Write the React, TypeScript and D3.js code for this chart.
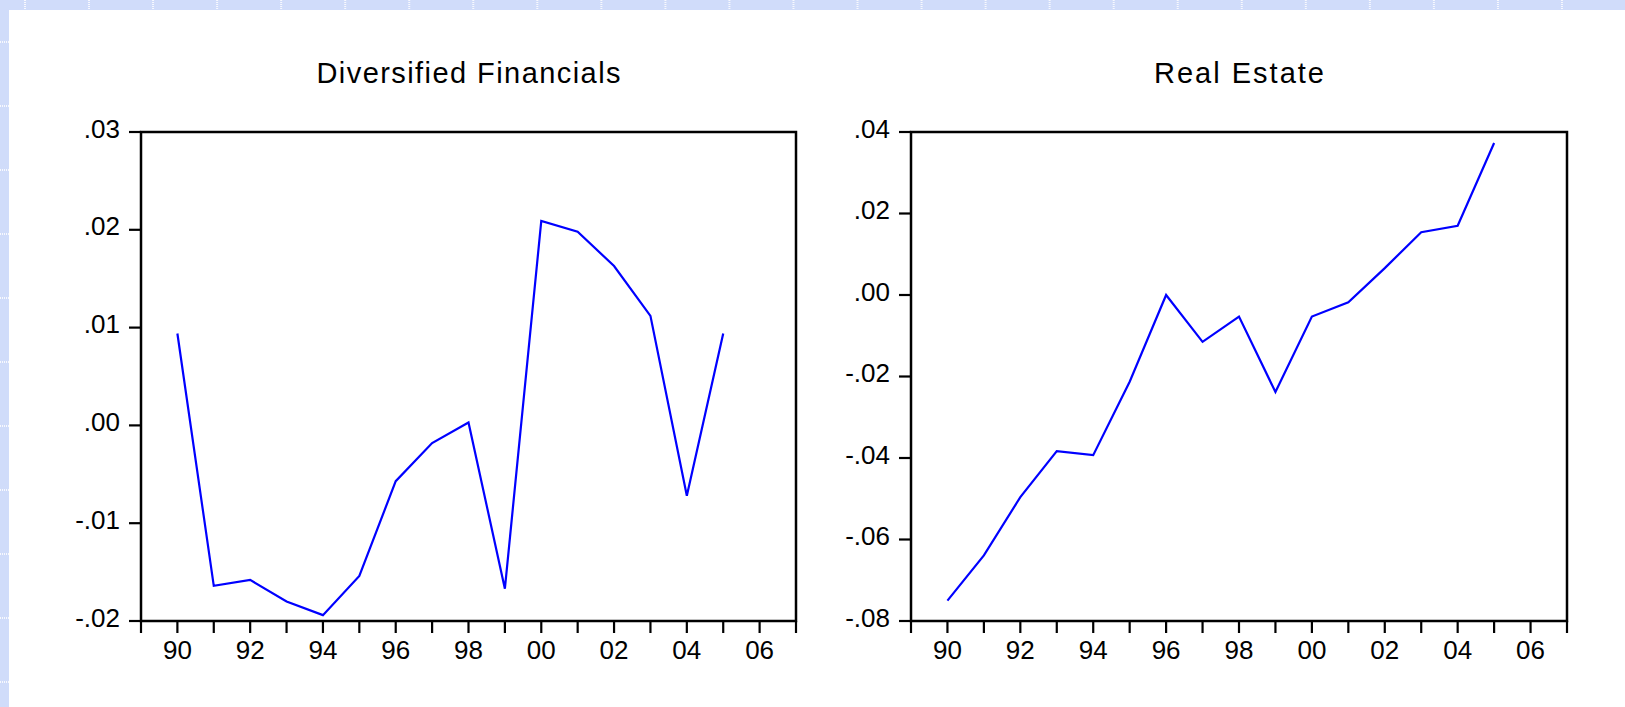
import * as d3 from 'd3'
import React from 'react'

// years shown on the x axis (annual data)
const years = [1990, 1991, 1992, 1993, 1994, 1995, 1996, 1997, 1998, 1999, 2000, 2001, 2002, 2003, 2004, 2005]

// series
const finValues = [0.0094, -0.0164, -0.0158, -0.018, -0.0194, -0.0154, -0.0057, -0.0018, 0.0003, -0.0167, 0.0209, 0.0198, 0.0163, 0.0112, -0.0072, 0.0094]
const realEstateValues = [-0.075, -0.0639, -0.0496, -0.0383, -0.0393, -0.0213, 0.0, -0.0115, -0.0053, -0.0238, -0.0053, -0.0018, 0.0066, 0.0154, 0.017, 0.0373]

const finTicks = [-0.02, -0.01, 0.0, 0.01, 0.02, 0.03]
const realTicks = [-0.08, -0.06, -0.04, -0.02, 0.0, 0.02, 0.04]
const xTicks = d3.range(1989, 2008)
const xLabelYears = [1990, 1992, 1994, 1996, 1998, 2000, 2002, 2004, 2006]

const W = 1625
const H = 707
const FONT = '"Liberation Sans", Arial, sans-serif'

// EViews style number label: .03, -.02, .00
const fmtY = (v: number) => {
  const s = Math.abs(v).toFixed(2).replace(/^0/, '')
  return v < -1e-9 ? `-${s}` : s
}
const fmtX = (y: number) => String(y % 100).padStart(2, '0')

type PanelProps = {
  title: string
  titleWidth: number
  values: number[]
  yDomain: [number, number]
  yTicks: number[]
  left: number
  right: number
}

const Panel = ({ title, titleWidth, values, yDomain, yTicks, left, right }: PanelProps) => {
  const top = 132
  const bottom = 621
  const x = d3.scaleLinear().domain([1989, 2007]).range([left, right])
  const y = d3.scaleLinear().domain(yDomain).range([bottom, top])
  const line = d3
    .line<number>()
    .x((_, i) => x(years[i]))
    .y((d) => y(d))

  const tick = 12

  return (
    <g>
      <text
        x={(left + right) / 2}
        y={83}
        textAnchor='middle'
        fontSize={29}
        fontFamily={FONT}
        fill='#000'
        textLength={titleWidth}
        lengthAdjust='spacing'
      >
        {title}
      </text>

      {/* series */}
      <path d={line(values) || ''} fill='none' stroke='#0000ff' strokeWidth={2.2} strokeLinejoin='miter' />

      {/* frame */}
      <rect x={left} y={top} width={right - left} height={bottom - top} fill='none' stroke='#000' strokeWidth={2.5} />

      {/* y axis */}
      {yTicks.map((t) => (
        <g key={t}>
          <line x1={left - tick} x2={left} y1={y(t)} y2={y(t)} stroke='#000' strokeWidth={2.2} />
          <text
            x={left - 21}
            y={y(t)}
            dy='0.33em'
            textAnchor='end'
            fontSize={26}
            fontFamily={FONT}
            fill='#000'
            transform='translate(0,-3)'
          >
            {fmtY(t)}
          </text>
        </g>
      ))}

      {/* x axis */}
      {xTicks.map((t) => (
        <line key={t} x1={x(t)} x2={x(t)} y1={bottom} y2={bottom + tick} stroke='#000' strokeWidth={2.2} />
      ))}
      {xLabelYears.map((t) => (
        <text key={t} x={x(t)} y={659} textAnchor='middle' fontSize={26} fontFamily={FONT} fill='#000'>
          {fmtX(t)}
        </text>
      ))}
    </g>
  )
}

export default function App() {
  const vLines = d3.range(0, 26).map((k) => 25 + k * 64.04)
  const hLines = d3.range(0, 11).map((k) => 42 + k * 64)

  return (
    <svg
      width={W}
      height={H}
      style={{ position: 'absolute', left: 0, top: 0, display: 'block', background: '#d0dcfa' }}
    >
      <rect x={0} y={0} width={W} height={H} fill='#d0dcfa' />
      {vLines.map((vx) => (
        <line key={`v${vx}`} x1={vx} x2={vx} y1={0} y2={H} stroke='#ffffff' strokeWidth={2} strokeDasharray='1,1' opacity={0.85} />
      ))}
      {hLines.map((hy) => (
        <line key={`h${hy}`} x1={0} x2={W} y1={hy} y2={hy} stroke='#ffffff' strokeWidth={2} strokeDasharray='1,1' opacity={0.85} />
      ))}
      <rect x={9} y={10} width={W - 9} height={H - 10} fill='#ffffff' />

      <Panel
        title='Diversified Financials'
        titleWidth={304}
        values={finValues}
        yDomain={[-0.02, 0.03]}
        yTicks={finTicks}
        left={141}
        right={796}
      />
      <Panel
        title='Real Estate'
        titleWidth={170}
        values={realEstateValues}
        yDomain={[-0.08, 0.04]}
        yTicks={realTicks}
        left={911}
        right={1567}
      />
    </svg>
  )
}
